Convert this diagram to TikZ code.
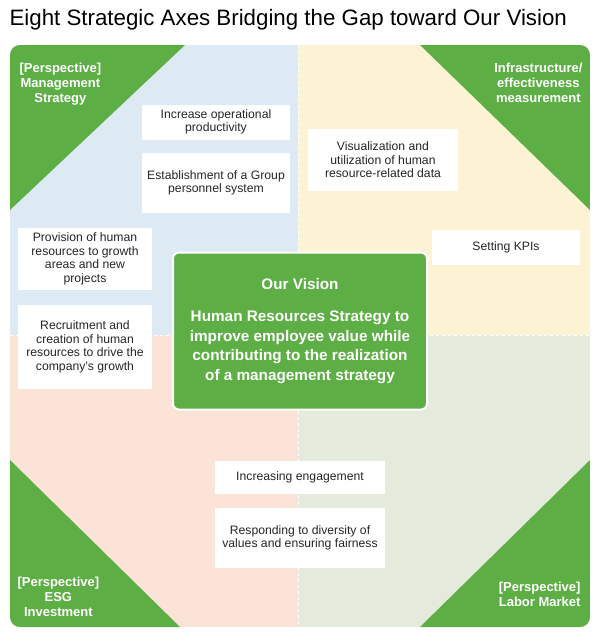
\documentclass[tikz,border=0pt]{standalone}
\usepackage{fontspec}
\setmainfont{Liberation Sans}
\usetikzlibrary{positioning}
\definecolor{vgreen}{HTML}{5DAF45}
\definecolor{qblue}{HTML}{DDEAF4}
\definecolor{qyellow}{HTML}{FBF3D3}
\definecolor{qpeach}{HTML}{FBE3D8}
\definecolor{qsage}{HTML}{E5EBDC}
\tikzset{
  axisbox/.style={fill=white,align=center,font=\fontsize{12.2}{13.5}\selectfont,text=black!85,inner sep=2pt},
  corner/.style={font=\bfseries\fontsize{13}{15}\selectfont,text=white,align=center}
}
\begin{document}
\begin{tikzpicture}[x=1pt,y=-1pt]
\useasboundingbox (0,0) rectangle (600,637);
\fill[white] (0,0) rectangle (600,637);
%
\node[anchor=west,font=\fontsize{22.3}{26}\selectfont] (title) at (6,20) {Eight Strategic Axes Bridging the Gap toward Our Vision};
%
\begin{scope}
\clip[rounded corners=10pt] (10,45) rectangle (590,627);
\fill[qblue] (10,45) rectangle (298,335);
\fill[qyellow] (298,45) rectangle (590,335);
\fill[qpeach] (10,335) rectangle (298,627);
\fill[qsage] (298,335) rectangle (590,627);
\fill[vgreen] (10,45) -- (185,45) -- (10,210) -- cycle;
\fill[vgreen] (420,45) -- (590,45) -- (590,210) -- cycle;
\fill[vgreen] (10,460) -- (180,627) -- (10,627) -- cycle;
\fill[vgreen] (590,460) -- (590,627) -- (420,627) -- cycle;
\end{scope}
\draw[white,dashed,line width=0.8pt] (298,45) -- (298,627);
\draw[white,dashed,line width=0.8pt] (10,335) -- (590,335);
%
\node[corner,anchor=north west] (mgmt) at (16,60) {[Perspective]\\Management\\Strategy};
\node[corner,anchor=north east] (infra) at (586,60) {Infrastructure/\\effectiveness\\measurement};
\node[corner,anchor=south west] (esg) at (14,620) {[Perspective]\\ESG\\Investment};
\node[corner,anchor=south east] (labor) at (584,610) {[Perspective]\\Labor Market};
%
\node[axisbox,minimum width=148pt,minimum height=35pt] (prod) at (216,122) {Increase operational\\productivity};
\node[axisbox,minimum width=148pt,minimum height=60pt] (group) at (216,183) {Establishment of a Group\\personnel system};
\node[axisbox,minimum width=150pt,minimum height=62pt] (visual) at (383,160) {Visualization and\\utilization of human\\resource-related data};
\node[axisbox,minimum width=148pt,minimum height=35pt] (kpi) at (506,247) {Setting KPIs};
\node[axisbox,minimum width=134pt,minimum height=62pt] (provide) at (85,259) {Provision of human\\resources to growth\\areas and new\\projects};
\node[axisbox,minimum width=134pt,minimum height=84pt] (recruit) at (85,347) {Recruitment and\\creation of human\\resources to drive the\\company's growth};
\node[axisbox,minimum width=170pt,minimum height=33pt] (engage) at (300,477) {Increasing engagement};
\node[axisbox,minimum width=170pt,minimum height=60pt] (divers) at (300,538) {Responding to diversity of\\values and ensuring fairness};
%
\node[fill=vgreen,draw=white,line width=2pt,rounded corners=6pt,minimum width=254pt,minimum height=157pt,
  text=white,align=center,font=\bfseries\fontsize{15.3}{19.5}\selectfont] (vision) at (300,331)
  {Our Vision\\[13pt]Human Resources Strategy to\\improve employee value while\\contributing to the realization\\of a management strategy};
\end{tikzpicture}
\end{document}
